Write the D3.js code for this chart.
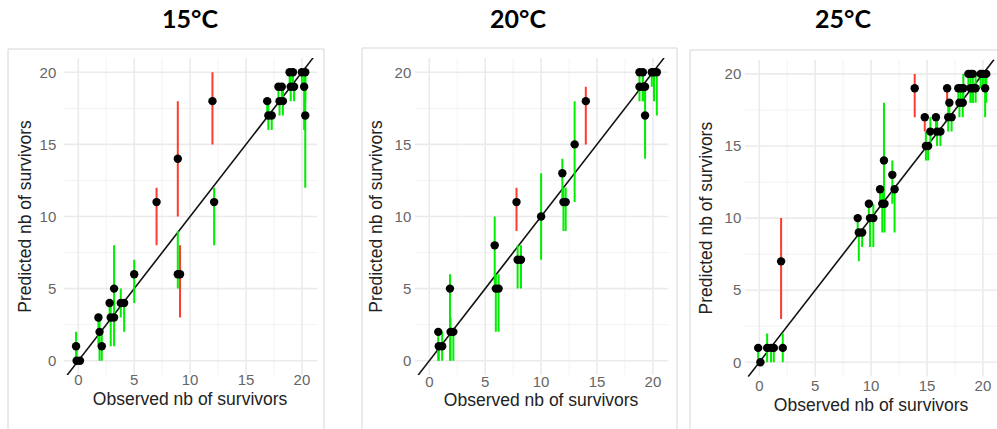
<!DOCTYPE html>
<meta charset="utf-8"/>
<style>
  body { margin: 0; background: #fff; }
  .grid-major line { stroke: #ebebeb; stroke-width: 1.6px; }
  .grid-minor line { stroke: #f2f2f2; stroke-width: 0.9px; }
  .tick-label { font-family: "Liberation Sans", Arial, sans-serif; font-size: 15px; fill: #666; }
  .axis-title { font-family: "Liberation Sans", Arial, sans-serif; font-size: 17.5px; fill: #222; }
  .panel-title { font-family: Lato, "Open Sans", sans-serif; font-weight: bold; font-size: 25px; fill: #000; }
</style>
<svg width="997" height="429"></svg>
<script src="https://d3js.org/d3.v7.min.js"></script>
<script>

  // panel titles
  var titles = ["15°C", "20°C", "25°C"];

  // each row: [observed (jittered), predicted, lower bound, upper bound]
  var points15 = [
    [-0.2, 1, 0, 2], [-0.15, 0, 0, 1], [0.15, 0, 0, 0],
    [1.8, 3, 1, 3], [1.9, 2, 0, 3], [2.1, 1, 0, 2],
    [2.8, 4, 3, 4], [2.9, 3, 1, 4], [3.2, 3, 1, 4], [3.2, 5, 3, 8],
    [3.8, 4, 3, 5], [4.1, 4, 2, 4], [5.0, 6, 4, 7],
    [7.0, 11, 8, 12], [8.9, 14, 10, 18], [8.9, 6, 5, 9], [9.1, 6, 3, 8],
    [12.0, 18, 15, 20], [12.15, 11, 8, 12],
    [16.9, 18, 17, 18], [17.0, 17, 16, 18], [17.3, 17, 16, 17],
    [17.9, 19, 18, 19], [18.2, 19, 18, 19], [18.0, 18, 17, 18], [18.3, 18, 17, 19],
    [18.9, 20, 19, 20], [19.2, 20, 19, 20], [19.0, 19, 18, 20], [19.3, 19, 18, 19],
    [20.0, 20, 19, 20], [20.3, 20, 18, 20], [20.2, 19, 16, 20], [20.3, 17, 12, 20]
  ];

  var points20 = [
    [0.8, 2, 0, 2], [0.85, 1, 0, 1], [1.15, 1, 0, 2],
    [1.85, 5, 0, 6], [1.9, 2, 0, 3], [2.15, 2, 0, 2],
    [5.85, 8, 5, 10], [5.95, 5, 2, 6], [6.2, 5, 2, 6],
    [7.8, 11, 9, 12], [7.9, 7, 5, 8], [8.2, 7, 5, 8],
    [10.0, 10, 7, 13], [11.9, 13, 11, 14], [12.0, 11, 9, 12], [12.2, 11, 9, 12],
    [13.0, 15, 11, 18], [14.0, 18, 15, 19],
    [18.8, 20, 19, 20], [19.1, 20, 18, 20], [18.8, 19, 18, 19], [19.1, 19, 18, 20],
    [19.3, 19, 18, 19], [19.3, 17, 14, 19],
    [19.9, 20, 19, 20], [20.1, 20, 18, 20], [20.35, 20, 17, 20]
  ];

  var points25 = [
    [-0.1, 1, 0, 1], [0.1, 0, 0, 0], [0.7, 1, 0, 2], [1.05, 1, 0, 1], [1.3, 1, 0, 1],
    [1.95, 7, 3, 10], [2.1, 1, 0, 2],
    [8.8, 10, 9, 10], [8.9, 9, 7, 9], [9.2, 9, 8, 9],
    [9.8, 11, 10, 11], [9.9, 10, 8, 10], [10.2, 10, 8, 11],
    [10.8, 12, 11, 12], [11.0, 11, 9, 12], [11.2, 11, 9, 11], [11.15, 14, 11, 18],
    [11.9, 13, 11, 14], [12.1, 12, 9, 12],
    [13.9, 19, 17, 20], [14.8, 17, 16, 17], [14.9, 15, 14, 16], [15.1, 15, 14, 15],
    [15.3, 16, 15, 17], [15.8, 17, 16, 17], [15.9, 16, 15, 17], [16.2, 16, 15, 16],
    [16.8, 19, 18, 19], [17.0, 18, 17, 18], [16.9, 17, 16, 18], [17.2, 17, 16, 17],
    [17.8, 19, 18, 19], [18.0, 19, 18, 19], [18.25, 19, 18, 20],
    [17.9, 18, 17, 18], [18.2, 18, 17, 19],
    [18.7, 20, 19, 20], [18.9, 20, 18, 20], [19.1, 20, 18, 20],
    [18.9, 19, 18, 19], [19.1, 19, 18, 19], [19.35, 19, 18, 20],
    [19.8, 20, 19, 20], [20.0, 20, 19, 20], [20.3, 20, 18, 20], [20.2, 19, 17, 20]
  ];

  var majorTicks = [0, 5, 10, 15, 20];
  var minorTicks = [2.5, 7.5, 12.5, 17.5];

  var svg = d3.select("svg");

  // pixel layout of the three panels
  var kx = 11.18, ky = 14.42;
  var panels = [
    { data: points15, x0: 78.3, y0: 360.7, frame: [8, 49, 324], title: 190, xlab: 380, xtitle: 405, ytitle: 31, labelGap: 22 },
    { data: points20, x0: 429.3, y0: 360.7, frame: [362, 48, 677], title: 518, xlab: 382, xtitle: 406, ytitle: 382, labelGap: 18 },
    { data: points25, x0: 759.3, y0: 362.3, frame: [690, 50, 1010], title: 843, xlab: 386, xtitle: 411, ytitle: 712, labelGap: 18 }
  ];

  panels.forEach(function (p, i) {
    var x = d3.scaleLinear().domain([0, 20]).range([p.x0, p.x0 + 20 * kx]);
    var y = d3.scaleLinear().domain([0, 20]).range([p.y0, p.y0 - 20 * ky]);
    var xd = [-1.3, 21.4], yd = [-1, 21];

    var g = svg.append("g");

    // screenshot frame
    g.append("path")
      .attr("d", "M" + p.frame[0] + ",440V" + p.frame[1] + "H" + p.frame[2] + "V440")
      .attr("fill", "none")
      .attr("stroke", "#d6d6d6")
      .attr("stroke-width", 1);

    g.append("text")
      .attr("class", "panel-title")
      .attr("x", p.title)
      .attr("y", 28)
      .attr("text-anchor", "middle")
      .text(titles[i]);

    var clipId = "clip" + i;
    g.append("clipPath").attr("id", clipId)
      .append("rect")
      .attr("x", x(xd[0])).attr("y", y(yd[1]))
      .attr("width", x(xd[1]) - x(xd[0]))
      .attr("height", y(yd[0]) - y(yd[1]));

    var plot = g.append("g").attr("clip-path", "url(#" + clipId + ")");

    // grid
    var minor = plot.append("g").attr("class", "grid-minor");
    minor.selectAll(".v").data(minorTicks).enter().append("line")
      .attr("x1", x).attr("x2", x).attr("y1", y(yd[0])).attr("y2", y(yd[1]));
    minor.selectAll(".h").data(minorTicks).enter().append("line")
      .attr("y1", y).attr("y2", y).attr("x1", x(xd[0])).attr("x2", x(xd[1]));
    var major = plot.append("g").attr("class", "grid-major");
    major.selectAll(".v").data(majorTicks).enter().append("line")
      .attr("x1", x).attr("x2", x).attr("y1", y(yd[0])).attr("y2", y(yd[1]));
    major.selectAll(".h").data(majorTicks).enter().append("line")
      .attr("y1", y).attr("y2", y).attr("x1", x(xd[0])).attr("x2", x(xd[1]));

    // y = x reference line
    plot.append("line")
      .attr("x1", x(-1)).attr("y1", y(-1))
      .attr("x2", x(21)).attr("y2", y(21))
      .attr("stroke", "#111")
      .attr("stroke-width", 1.6);

    // intervals: green when the observed count falls inside
    plot.append("g").selectAll("line")
      .data(p.data)
      .enter().append("line")
      .attr("x1", function (d) { return x(d[0]); })
      .attr("x2", function (d) { return x(d[0]); })
      .attr("y1", function (d) { return y(d[2]); })
      .attr("y2", function (d) { return y(d[3]); })
      .attr("stroke", function (d) {
        var o = Math.round(d[0]);
        return (o >= d[2] && o <= d[3]) ? "#00ee00" : "#ff3a30";
      })
      .attr("stroke-width", 2);

    plot.append("g").selectAll("circle")
      .data(p.data)
      .enter().append("circle")
      .attr("cx", function (d) { return x(d[0]); })
      .attr("cy", function (d) { return y(d[1]); })
      .attr("r", 4.2)
      .attr("fill", "#000");

    // tick labels
    g.selectAll(".yl").data(majorTicks).enter().append("text")
      .attr("class", "tick-label")
      .attr("x", p.x0 - p.labelGap)
      .attr("y", function (d) { return y(d); })
      .attr("dy", "0.35em")
      .attr("text-anchor", "end")
      .text(function (d) { return d; });

    g.selectAll(".xl").data(majorTicks).enter().append("text")
      .attr("class", "tick-label")
      .attr("x", x)
      .attr("y", p.xlab)
      .attr("dy", "0.35em")
      .attr("text-anchor", "middle")
      .text(function (d) { return d; });

    g.append("text")
      .attr("class", "axis-title")
      .attr("x", x(10))
      .attr("y", p.xtitle)
      .attr("text-anchor", "middle")
      .text("Observed nb of survivors");

    g.append("text")
      .attr("class", "axis-title")
      .attr("transform", "translate(" + p.ytitle + "," + y(10) + ") rotate(-90)")
      .attr("text-anchor", "middle")
      .text("Predicted nb of survivors");
  });

</script>
